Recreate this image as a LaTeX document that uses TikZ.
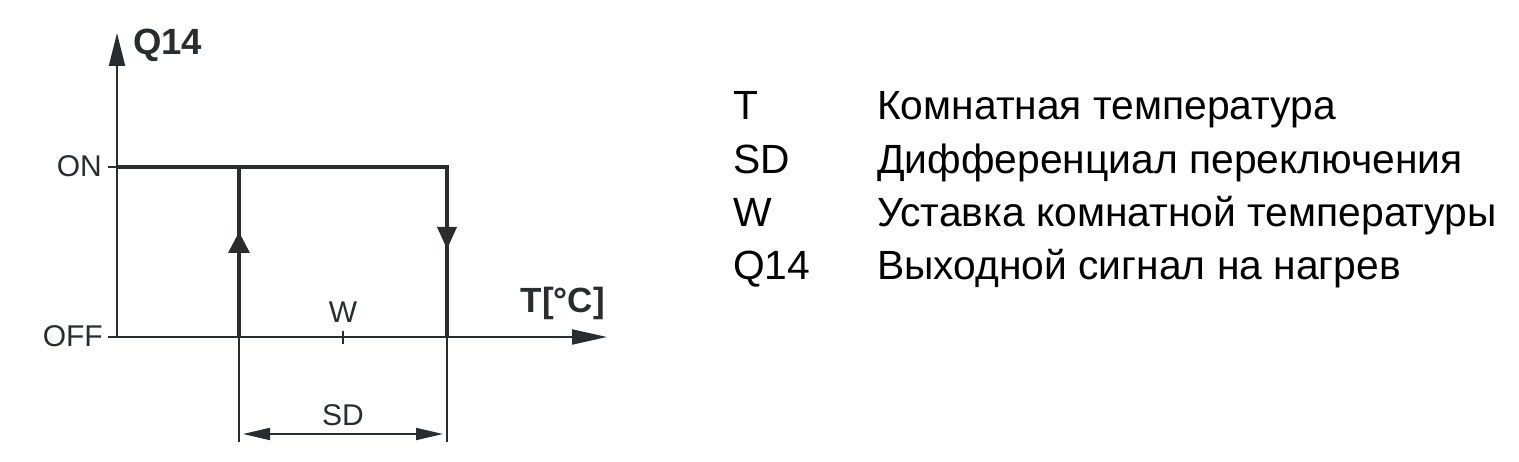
\documentclass[tikz,border=0pt]{standalone}
\usepackage{fontspec}
\setmainfont{Liberation Sans}
\usetikzlibrary{arrows.meta}
\definecolor{ink}{HTML}{2A2D30}
\tikzset{
  thin line/.style={draw=ink, line width=2pt},
  thick line/.style={draw=ink, line width=4.2pt},
  lbl/.style={inner sep=0pt, text=ink, font=\fontsize{30}{32}\selectfont},
  axlbl/.style={inner sep=0pt, text=ink, font=\fontsize{35}{38}\selectfont\bfseries},
  leg/.style={inner sep=0pt, anchor=base west, text=black, font=\fontsize{40.8}{44}\selectfont},
}
\begin{document}
\begin{tikzpicture}[x=1pt,y=-1pt]
\useasboundingbox (0,0) rectangle (1519,462);
% coordinates
\coordinate (O) at (117,337);
\coordinate (ytop) at (117,33);
\coordinate (xend) at (607,337);
\coordinate (ontick) at (108,167);
\coordinate (offtick) at (108,337);
\coordinate (on0) at (117,167);
\coordinate (L0) at (239,337);
\coordinate (L1) at (239,167);
\coordinate (R0) at (447,337);
\coordinate (R1) at (447,167);
\coordinate (Wt0) at (343,331);
\coordinate (Wt1) at (343,344);
\coordinate (Ld) at (239,442);
\coordinate (Rd) at (447,442);
\coordinate (SDa) at (243,434);
\coordinate (SDb) at (443,434);
% axes
\draw[thin line, -{Triangle[length=33pt,width=16pt]}] (O) -- (ytop);
\draw[thin line, -{Triangle[length=35pt,width=15pt]}] (offtick) -- (xend);
\draw[thin line] (ontick) -- (on0);
\draw[thin line] (Wt0) -- (Wt1);
% hysteresis loop
\draw[thick line, line cap=butt] (on0) -- (R1) -- (R0);
\draw[thick line] (L0) -- (L1);
\draw[fill=ink, draw=none] (239,232) -- (250,253) -- (228,253) -- cycle;
\draw[fill=ink, draw=none] (447,249) -- (457,227) -- (437,227) -- cycle;
% dimension
\draw[thin line] (L0) -- (Ld);
\draw[thin line] (R0) -- (Rd);
\draw[thin line, {Triangle[length=27pt,width=12pt]}-{Triangle[length=27pt,width=12pt]}] (SDa) -- (SDb);
% labels
\node[axlbl, anchor=base west, font=\fontsize{36.5}{38}\selectfont\bfseries] (q14) at (133,55) {Q14};
\node[axlbl, anchor=base east] (tc) at (605,313) {T[°C]};
\node[lbl, anchor=base east] (on) at (102,177) {ON};
\node[lbl, anchor=base east] (off) at (103,347) {OFF};
\node[lbl, anchor=base] (w) at (343,323) {W};
\node[lbl, anchor=base] (sd) at (343,425) {SD};
% legend
\node[leg] (k1) at (733,120) {T};
\node[leg] (v1) at (877,120) {Комнатная температура};
\node[leg] (k2) at (733,173.5) {SD};
\node[leg] (v2) at (877,173.5) {Дифференциал переключения};
\node[leg] (k3) at (733,227) {W};
\node[leg] (v3) at (877,227) {Уставка комнатной температуры};
\node[leg] (k4) at (733,280) {Q14};
\node[leg] (v4) at (877,280) {Выходной сигнал на нагрев};
\end{tikzpicture}
\end{document}
